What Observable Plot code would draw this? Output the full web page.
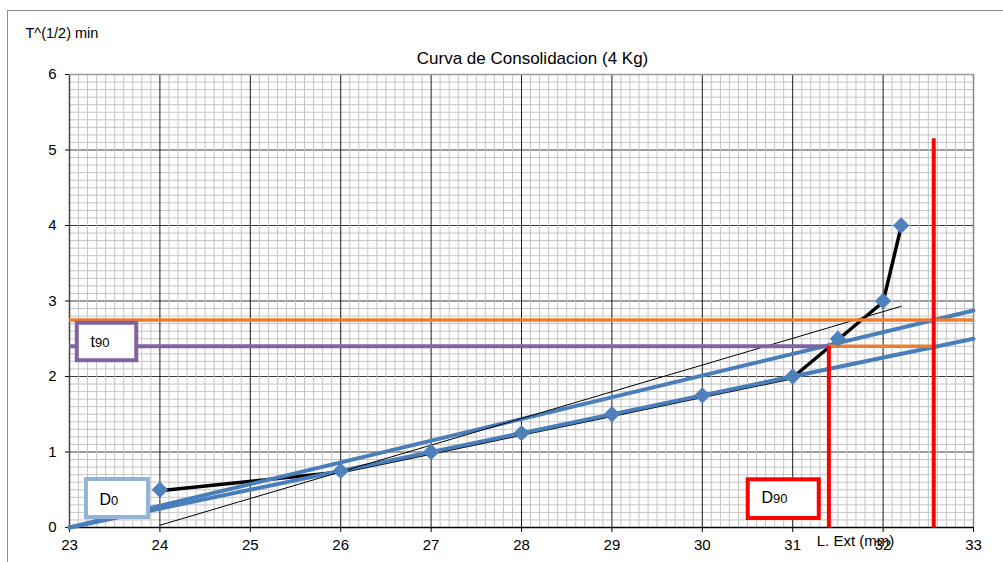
<!DOCTYPE html>
<html>
<head>
<meta charset="utf-8">
<script src="https://cdn.jsdelivr.net/npm/d3@7"></script>
<script src="https://cdn.jsdelivr.net/npm/@observablehq/plot@0.6"></script>
<style>
  html, body { margin: 0; padding: 0; background: #fff; overflow: hidden; }
  #wrap { position: relative; width: 1003px; height: 562px; }
  #border { position: absolute; left: 7px; top: 10px; width: 1100px; height: 700px; border: 1px solid #8e8e8e; box-sizing: border-box; pointer-events: none; }
  #chart { position: absolute; left: 0; top: 0; }
</style>
</head>
<body>
<div id="wrap"><div id="border"></div><div id="chart"></div></div>
<script>
// Measured data (L. Ext vs T^(1/2))
const lext = [24, 26, 27, 28, 29, 30, 31, 31.5, 32, 32.2];
const sqrtT = [0.5, 0.75, 1, 1.25, 1.5, 1.75, 2, 2.5, 3, 4];

// Ticks
const xTicks = [23, 24, 25, 26, 27, 28, 29, 30, 31, 32, 33];
const yTicks = [0, 1, 2, 3, 4, 5, 6];

// Construction lines
const tangentX = [23, 33];
const tangentY = [0, 2.5];          // straight part fit
const tangent115Y = [0, 2.875];     // 1.15 x abscissa line
const thinX = [24, 32.2];
const thinY = [0.03, 2.93];
const t90 = 2.4;
const upperH = 2.75;
const d90X = 31.4;
const rightX = 32.56;
const rightTop = 5.15;

// Label boxes
const boxMain = ["t", "D", "D"];
const boxSub = ["90", "0", "90"];
const boxColor = ["#8064a2", "#95b3d7", "#ff0000"];
const boxX1 = [23.086, 23.188, 30.508];
const boxX2 = [23.744, 23.874, 31.294];
const boxY1 = [2.705, 0.636, 0.632];
const boxY2 = [2.209, 0.132, 0.119];
const labelX = [23.232, 23.332, 30.655];
const labelY = [2.456, 0.372, 0.389];
const subY = [2.442, 0.358, 0.375];
const mainWidth = [4.6, 11.6, 11.6];

const pts = lext.map((x, i) => ({x, y: sqrtT[i]}));
const minorX = d3.range(230, 331).filter(v => v % 10 !== 0).map(v => v / 10);
const minorY = d3.range(0, 61).filter(v => v % 10 !== 0).map(v => v / 10);
const font = "'Liberation Sans', Arial, sans-serif";

const labelMarks = [];
boxMain.forEach((m, i) => {
  labelMarks.push(Plot.rect([0], {x1: boxX1[i], x2: boxX2[i], y1: boxY1[i], y2: boxY2[i], fill: "#fff", stroke: boxColor[i], strokeWidth: 4}));
  labelMarks.push(Plot.text([m], {x: labelX[i], y: labelY[i], text: d => d, textAnchor: "start", fontSize: 16, fill: "#000"}));
  labelMarks.push(Plot.text([boxSub[i]], {x: labelX[i], y: subY[i], text: d => d, textAnchor: "start", fontSize: 13, fill: "#000", dx: mainWidth[i]}));
});

const chart = Plot.plot({
  width: 1003,
  height: 562,
  marginLeft: 69,
  marginRight: 30,
  marginTop: 74,
  marginBottom: 35,
  style: {fontFamily: font, fontSize: "15px", color: "#000", background: "transparent"},
  x: {domain: [23, 33], label: null},
  y: {domain: [0, 6], label: null},
  marks: [
    Plot.gridY(yTicks, {stroke: "#3a3a3a", strokeOpacity: 1, strokeWidth: 1}),
    Plot.gridX(minorX, {stroke: "#c4c4c4", strokeOpacity: 1, strokeWidth: 1}),
    Plot.gridY(minorY, {stroke: "#c4c4c4", strokeOpacity: 1, strokeWidth: 1}),
    Plot.gridX(xTicks, {stroke: "#1a1a1a", strokeOpacity: 1, strokeWidth: 1}),
    Plot.ruleX([23], {stroke: "#444", strokeWidth: 1.5}),
    Plot.ruleX([33], {stroke: "#888", strokeWidth: 1.5}),
    Plot.ruleY([6], {stroke: "#999", strokeWidth: 1.5}),
    Plot.ruleY([0], {stroke: "#000", strokeWidth: 1.5}),
    Plot.axisX({ticks: xTicks, tickSize: 5, tickPadding: 7, fontSize: 15, tickFormat: d => d}),
    Plot.axisY({ticks: yTicks, tickSize: 4, tickPadding: 9, fontSize: 15, tickFormat: d => d}),
    // data line (under the fitted lines)
    Plot.line(pts, {x: "x", y: "y", stroke: "#000", strokeWidth: 3.5, dy: 1}),
    // blue construction lines
    Plot.line(tangentX.map((x, i) => ({x, y: tangentY[i]})), {x: "x", y: "y", stroke: "#4a7ebb", strokeWidth: 4}),
    Plot.line(tangentX.map((x, i) => ({x, y: tangent115Y[i]})), {x: "x", y: "y", stroke: "#4a7ebb", strokeWidth: 4}),
    // thin black line
    Plot.line(thinX.map((x, i) => ({x, y: thinY[i]})), {x: "x", y: "y", stroke: "#000", strokeWidth: 1}),
    // horizontal lines
    Plot.ruleY([upperH], {x1: 23, x2: 33, stroke: "#ed7d31", strokeWidth: 3.5}),
    Plot.ruleY([t90], {x1: 23, x2: d90X, stroke: "#8064a2", strokeWidth: 4}),
    Plot.ruleY([t90], {x1: d90X, x2: rightX, stroke: "#ed7d31", strokeWidth: 3.5}),
    // vertical red lines
    Plot.ruleX([d90X], {y1: 0, y2: t90, stroke: "#ff0000", strokeWidth: 4}),
    Plot.ruleX([rightX], {y1: 0, y2: rightTop, stroke: "#ff0000", strokeWidth: 4}),
    // markers
    Plot.dot(pts, {x: "x", y: "y", symbol: "diamond2", r: 7.4, fill: "#4f81bd", stroke: "none"}),
    ...labelMarks,
    // titles
    Plot.text(["Curva de Consolidacion (4 Kg)"], {frameAnchor: "top", textAnchor: "middle", dx: 11, dy: -23, fontSize: 17, fill: "#000"}),
    Plot.text(["T^(1/2) min"], {frameAnchor: "top-left", textAnchor: "start", dx: -44, dy: -47, fontSize: 14.5, fill: "#000"}),
    Plot.text(["L. Ext (mm)"], {frameAnchor: "bottom-right", textAnchor: "middle", dx: -118, dy: 18, fontSize: 15, fill: "#000"})
  ]
});
document.getElementById("chart").appendChild(chart);
</script>
</body>
</html>
